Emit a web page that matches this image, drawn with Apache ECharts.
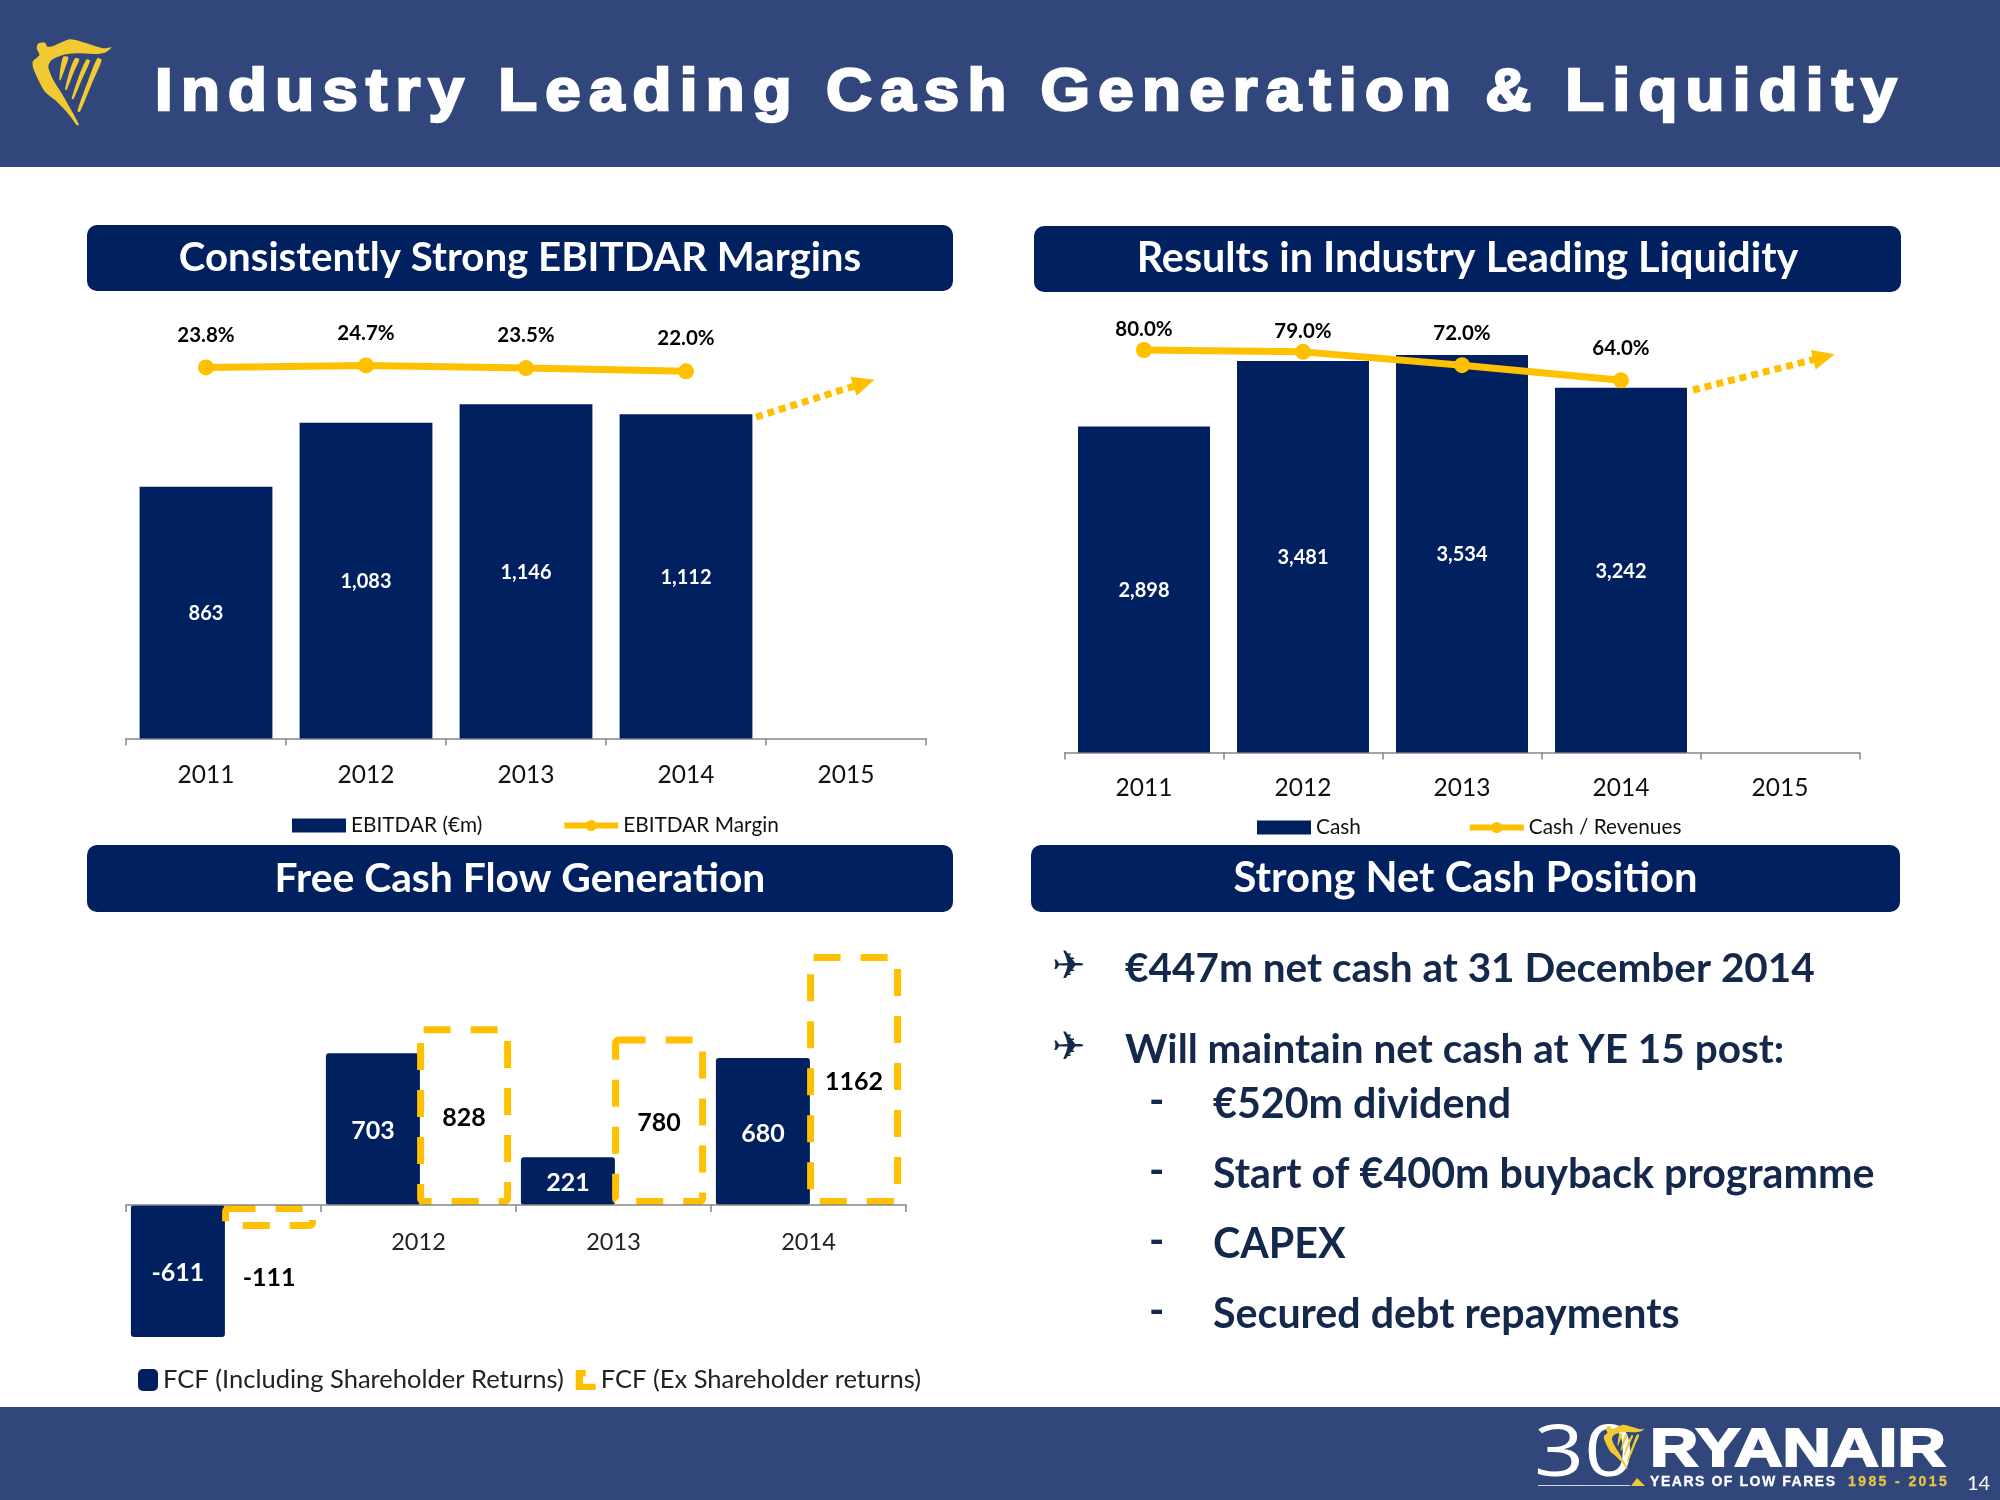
<!DOCTYPE html>
<html><head><meta charset="utf-8">
<style>
html,body{margin:0;padding:0;background:#fff;overflow:hidden}
#chart{position:absolute;left:0;top:0;width:2000px;height:1500px}
.ov{position:absolute;white-space:nowrap;margin:0;line-height:1;font-family:"Liberation Sans",Arial,sans-serif;font-weight:700;color:#fff}
#slideTitle{left:155px;top:60px;font-size:60px;letter-spacing:7.82px;-webkit-text-stroke:2.5px #fff;transform-origin:0 0;transform:scaleX(1.06)}
#brand{left:1650px;top:1421px;font-size:53px;letter-spacing:0;-webkit-text-stroke:2px #fff;transform-origin:0 0;transform:scaleX(1.26)}
#years{left:1650px;top:1474px;font-size:14px;letter-spacing:1.55px;-webkit-text-stroke:.3px #fff}
#years span{color:#E8C547;letter-spacing:2.4px;margin-left:6px;-webkit-text-stroke:.3px #E8C547}
</style>
<script src="https://cdn.jsdelivr.net/npm/echarts@6/dist/echarts.min.js"></script>
</head><body>
<div id="chart"></div>
<h1 class="ov" id="slideTitle">Industry Leading Cash Generation &amp; Liquidity</h1>
<div class="ov" id="brand">RYANAIR</div>
<div class="ov" id="years">YEARS OF LOW FARES <span>1985 - 2015</span></div>
<script>
// ---- data ----
const years = ['2011','2012','2013','2014','2015'];
const ebitdar = [863,1083,1146,1112,null];
const ebitdarMargin = [23.8,24.7,23.5,22.0,null];
const cash = [2898,3481,3534,3242,null];
const cashRevenues = [80.0,79.0,72.0,64.0,null];
const fcfYears = ['2011','2012','2013','2014'];
const fcfIncl = [-611,703,221,680];
const fcfEx = [-111,828,780,1162];
const headings = ['Consistently Strong EBITDAR Margins','Results in Industry Leading Liquidity','Free Cash Flow Generation','Strong Net Cash Position'];
const bullets = ['€447m net cash at 31 December 2014','Will maintain net cash at YE 15 post:'];
const subBullets = ['€520m dividend','Start of €400m buyback programme','CAPEX','Secured debt repayments'];

// ---- styles ----
const NAVY='#002060', GOLD='#FFC000', BAND='#31477C', INK='#14284B', AXIS='#868686', HARP='#F1C933';
const FONT='Lato';
const fmt = v => v==null ? '' : Number(v).toLocaleString('en-US');

function catAxis(idx,data,margin){
  return {type:'category',gridIndex:idx,data,
    axisLine:{lineStyle:{color:AXIS,width:1.5}},
    axisTick:{show:true,length:7,alignWithLabel:false,lineStyle:{color:AXIS,width:1.5}},
    axisLabel:{fontFamily:FONT,fontSize:24.5,color:'#111',margin}};
}
function valAxis(idx,min,max){
  return {type:'value',gridIndex:idx,min,max,show:false,splitLine:{show:false}};
}
function barSeries(name,x,y,data){
  return {name,type:'bar',xAxisIndex:x,yAxisIndex:y,data,barCategoryGap:'17%',
    itemStyle:{color:NAVY},
    label:{show:true,position:'inside',offset:[0,1],fontFamily:FONT,fontWeight:700,fontSize:20,color:'#fff',formatter:p=>fmt(p.value)}};
}
function lineSeries(name,x,y,data,lift,arrow){
  return {name,type:'line',xAxisIndex:x,yAxisIndex:y,z:5,
    data:data.map((v,i)=>({value:v,label:{distance:lift(i)}})),
    symbol:'circle',symbolSize:16,connectNulls:false,
    lineStyle:{color:GOLD,width:7},itemStyle:{color:GOLD},
    label:{show:true,position:'top',fontFamily:FONT,fontWeight:700,fontSize:20.5,color:'#000',
      formatter:p=>p.value==null?'':p.value.toFixed(1)+'%'},
    markLine:{silent:true,animation:false,symbol:['none','triangle'],symbolSize:[20,22],
      label:{show:false},
      lineStyle:{color:GOLD,type:[7,5],width:7,cap:'butt'},itemStyle:{color:GOLD},
      data:[[{x:arrow[0],y:arrow[1],symbol:'none'},{x:arrow[2],y:arrow[3],symbol:'triangle'}]]}};
}
function legendOf(barName,lineName,left,top,gap){
  return {show:true,left,top,itemWidth:54,itemHeight:14,itemGap:gap,selectedMode:false,
    lineStyle:{width:6},
    textStyle:{fontFamily:FONT,fontSize:20.8,color:'#111',padding:0},
    data:[{name:barName,icon:'rect'},{name:lineName}]};
}

// ---- harp emblem, traced in a 0-300 box ----
const harpBody=[[55,40],[75,38],[82,50],[100,48],[150,28],[200,40],[250,55],[275,52],[255,68],[220,72],[170,70],[130,75],[95,90],[85,110],[100,150],[125,190],[145,225],[165,260],[177,285],[170,285],[150,258],[130,235],[105,210],[75,185],[55,150],[40,115],[38,95],[58,75],[50,55]];
const harpStrings=[
 [[130,80],[145,82],[135,115],[122,150],[118,150],[122,110]],
 [[165,85],[178,88],[160,130],[140,180],[135,178],[150,120]],
 [[200,88],[210,92],[185,150],[160,208],[155,205],[180,130]],
 [[232,85],[245,90],[220,150],[180,245],[172,243],[205,150]]];
function harp(x,y,k){
  return {type:'group',x,y,scaleX:k,scaleY:k,children:[harpBody,...harpStrings].map(p=>({type:'polygon',shape:{points:p,smooth:0.25},style:{fill:HARP}}))};
}

// ---- page furniture ----
const panels=[[87,225,866,66],[1034,226,867,66],[87,845,866,67],[1031,845,869,67]];
const headingSizes=[40.2,41.3,40.8,41.7];
const gfx=[
  {type:'rect',z:-10,shape:{x:0,y:0,width:2000,height:167},style:{fill:BAND}},
  {type:'rect',z:-10,shape:{x:0,y:1407,width:2000,height:93},style:{fill:BAND}},
  harp(20,30,1/3),
  {type:'text',x:1534,y:1419,scaleX:1.22,style:{text:'30',font:'400 72px "Open Sans"',fill:'#fff'}},
  harp(1597.5,1420,0.17),
  {type:'polygon',shape:{points:[[1631,1486],[1645,1486],[1637,1478]]},style:{fill:HARP}},
  {type:'rect',shape:{x:1538,y:1485,width:92,height:1},style:{fill:'#cfd8ea'}},
  {type:'text',x:1967,y:1474,style:{text:'14',font:'20px '+FONT,fill:'#fff'}}
];
panels.forEach((p,i)=>{
  gfx.push({type:'rect',z:-5,shape:{x:p[0],y:p[1],width:p[2],height:p[3],r:10},style:{fill:NAVY}});
  gfx.push({type:'text',x:p[0]+p[2]/2,y:p[1]+p[3]/2,style:{text:headings[i],font:'700 '+headingSizes[i]+'px '+FONT,fill:'#fff',align:'center',verticalAlign:'middle'}});
});
const bodyFont='700 40.5px '+FONT, subFont='700 41.2px '+FONT;
[969,1050].forEach((y,i)=>{
  gfx.push({type:'text',x:1052,y,style:{text:'✈',font:'40px "DejaVu Sans"',fill:INK,verticalAlign:'middle'}});
  gfx.push({type:'text',x:1125,y,style:{text:bullets[i],font:bodyFont,fill:INK,verticalAlign:'middle'}});
});
[1105,1175,1245,1315].forEach((y,i)=>{
  gfx.push({type:'text',x:1149,y:y-3,style:{text:'-',font:subFont,fill:INK,verticalAlign:'middle'}});
  gfx.push({type:'text',x:1213,y,style:{text:subBullets[i],font:subFont,fill:INK,verticalAlign:'middle'}});
});

const fcfAxis=catAxis(2,fcfYears,-147);
fcfAxis.axisLabel=Object.assign({},fcfAxis.axisLabel,{fontSize:23.5,color:'#222',formatter:(v,i)=>i===0?'':v});
fcfAxis.z=6;

const fcfLabel=(color)=>({show:true,position:'inside',offset:[0,2],fontFamily:FONT,fontWeight:700,fontSize:25,color});

const option={
  animation:false,
  backgroundColor:'#fff',
  textStyle:{fontFamily:FONT},
  graphic:gfx,
  grid:[
    {left:126,width:800,top:301,height:437.5},
    {left:1064.5,width:795,top:302.5,height:450},
    {left:126,width:780,top:945.8,height:432}
  ],
  xAxis:[catAxis(0,years,24),catAxis(1,years,23),fcfAxis],
  yAxis:[valAxis(0,0,1500),valAxis(0,-145,54),valAxis(1,0,4000),valAxis(1,-132,105),valAxis(2,-800,1200)],
  legend:[
    legendOf('EBITDAR (€m)','EBITDAR Margin',287,810,79),
    legendOf('Cash','Cash / Revenues',1252,812,106),
    {show:true,left:133,top:1362,itemGap:12,selectedMode:false,itemWidth:20,itemHeight:22,
      textStyle:{fontFamily:FONT,fontSize:25.5,color:'#222',padding:0},
      data:[{name:'FCF (Including Shareholder Returns)',icon:'roundRect'},
            {name:'FCF (Ex Shareholder returns)',icon:'path://M0 0H11V7H8V15H22V22H0Z',itemStyle:{color:GOLD,borderWidth:0,opacity:1}}]}
  ],
  series:[
    barSeries('EBITDAR (€m)',0,0,ebitdar),
    lineSeries('EBITDAR Margin',0,1,ebitdarMargin,()=>14,[756,417,864,383]),
    barSeries('Cash',1,2,cash),
    lineSeries('Cash / Revenues',1,3,cashRevenues,i=>i<2?2:13,[1693,390,1824,357]),
    {name:'FCF (Including Shareholder Returns)',type:'bar',xAxisIndex:2,yAxisIndex:4,data:fcfIncl,
      barWidth:94,barGap:'-3%',
      itemStyle:{color:NAVY,borderRadius:3},
      label:fcfLabel('#fff')},
    {name:'FCF (Ex Shareholder returns)',type:'bar',xAxisIndex:2,yAxisIndex:4,z:4,barWidth:94,barGap:'-3%',
      data:fcfEx.map(v=>v<0?{value:v,label:{position:'bottom',distance:36,offset:[0,0]}}:{value:v}),
      itemStyle:{color:'rgba(255,255,255,0)',borderColor:GOLD,borderWidth:7,borderType:[27,20],borderRadius:3},
      label:fcfLabel('#000')}
  ]
};
const chart=echarts.init(document.getElementById('chart'),null,{renderer:'canvas',width:2000,height:1500});
chart.setOption(option);
</script>
</body></html>
